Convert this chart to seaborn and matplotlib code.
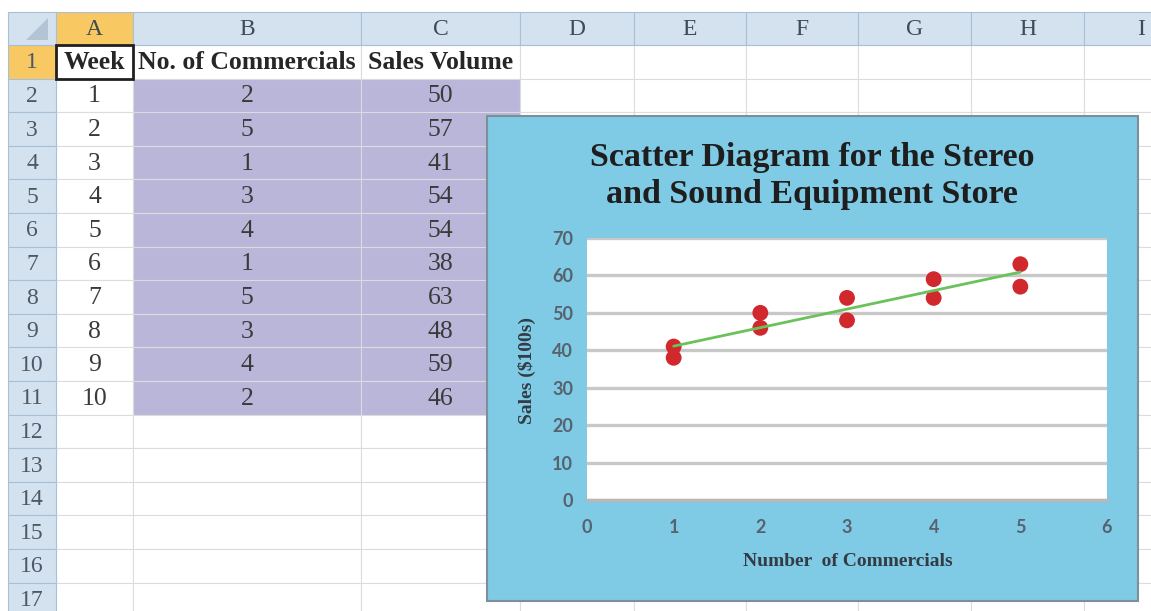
import matplotlib
matplotlib.use("Agg")
import matplotlib.pyplot as plt
from matplotlib.patches import Rectangle, Polygon
import seaborn as sns
import pandas as pd

# data
weeks = [1, 2, 3, 4, 5, 6, 7, 8, 9, 10]
commercials = [2, 5, 1, 3, 4, 1, 5, 3, 4, 2]
sales = [50, 57, 41, 54, 54, 38, 63, 48, 59, 46]
headers = ["Week", "No. of Commercials", "Sales Volume"]
col_letters = ["A", "B", "C", "D", "E", "F", "G", "H", "I"]
n_rows = 17
title = "Scatter Diagram for the Stereo\nand Sound Equipment Store"
x_title = "Number  of Commercials"
y_title = "Sales ($100s)"
x_ticks = [0, 1, 2, 3, 4, 5, 6]
y_ticks = [0, 10, 20, 30, 40, 50, 60, 70]

W, H = 1151, 611
SERIF = ["Liberation Serif", "DejaVu Serif"]
SANS = ["Lato", "DejaVu Sans"]

sns.set_style("white")
plt.rcParams["font.family"] = SERIF

fig = plt.figure(figsize=(W / 100, H / 100), dpi=100)

# ---- spreadsheet background in pixel coords
bg = fig.add_axes([0, 0, 1, 1])
bg.set_xlim(0, W)
bg.set_ylim(H, 0)
bg.axis("off")

col_edges = [8, 56, 133, 361, 520, 634, 746, 858, 971, 1084, 1198]
hdr_top, hdr_bot, row_h = 12, 45, 33.6
row_edges = [hdr_bot + i * row_h for i in range(n_rows + 1)]

hdr_blue = "#D4E2F0"
sel_orange = "#F8C962"
purple = "#B9B6DA"
grid_c = "#DCDCDC"
hdr_line = "#A9BFD6"

# cells grid
for r in range(n_rows):
    y0, y1 = row_edges[r], row_edges[r + 1]
    for c in range(1, len(col_edges) - 1):
        x0, x1 = col_edges[c], col_edges[c + 1]
        fc = "white"
        if 1 <= r <= len(weeks) and c in (2, 3):
            fc = purple
        bg.add_patch(Rectangle((x0, y0), x1 - x0, y1 - y0, facecolor=fc,
                               edgecolor=grid_c, lw=0.8))
    # row header
    fc = sel_orange if r == 0 else hdr_blue
    bg.add_patch(Rectangle((col_edges[0], y0), col_edges[1] - col_edges[0],
                           y1 - y0, facecolor=fc, edgecolor=hdr_line, lw=0.8))
    bg.text((col_edges[0] + col_edges[1]) / 2, (y0 + y1) / 2 + 1, str(r + 1),
            ha="center", va="center", fontsize=17, color="#4B5868")

# column header row
bg.add_patch(Rectangle((col_edges[0], hdr_top), col_edges[1] - col_edges[0],
                       hdr_bot - hdr_top, facecolor=hdr_blue,
                       edgecolor=hdr_line, lw=0.8))
bg.add_patch(Polygon([(48, 18), (48, 40), (26, 40)], closed=True,
                     facecolor="#B4C4D4", edgecolor="none"))
for i, letter in enumerate(col_letters):
    x0, x1 = col_edges[i + 1], col_edges[i + 2]
    fc = sel_orange if i == 0 else hdr_blue
    bg.add_patch(Rectangle((x0, hdr_top), x1 - x0, hdr_bot - hdr_top,
                           facecolor=fc, edgecolor=hdr_line, lw=0.8))
    bg.text((x0 + x1) / 2, (hdr_top + hdr_bot) / 2 + 1, letter, ha="center",
            va="center", fontsize=17, color="#3F4A56")

# table text
for c, h in enumerate(headers):
    x0, x1 = col_edges[c + 1], col_edges[c + 2]
    bg.text((x0 + x1) / 2, (row_edges[0] + row_edges[1]) / 2 + 1, h,
            ha="center", va="center", fontsize=18.5, fontweight="bold",
            color="#262626")
for i, vals in enumerate(zip(weeks, commercials, sales)):
    y0, y1 = row_edges[i + 1], row_edges[i + 2]
    for c, v in enumerate(vals):
        x0, x1 = col_edges[c + 1], col_edges[c + 2]
        bg.text((x0 + x1) / 2, (y0 + y1) / 2 + 1, str(v), ha="center",
                va="center", fontsize=18.5, color="#3A3A3A")

# selected cell A1
bg.add_patch(Rectangle((col_edges[1], row_edges[0]), col_edges[2] - col_edges[1],
                       row_h, facecolor="none", edgecolor="#202020", lw=2))

# chart box
chart_bg = "#7FCAE5"
bg.add_patch(Rectangle((487, 116), 651, 485, facecolor=chart_bg,
                       edgecolor="#7E8E9A", lw=1.5))

# ---- chart
px0, px1, py0, py1 = 587, 1107, 238, 500
ax = fig.add_axes([px0 / W, (H - py1) / H, (px1 - px0) / W, (py1 - py0) / H])
ax.set_facecolor("white")

df = pd.DataFrame({"Commercials": commercials, "Sales": sales})
sns.scatterplot(data=df, x="Commercials", y="Sales", ax=ax, color="#D0282C",
                s=130, edgecolor="none", zorder=3)
sns.regplot(data=df, x="Commercials", y="Sales", ax=ax, scatter=False,
            ci=None, color="#6AC25A", line_kws={"lw": 2, "zorder": 4})

ax.set_xlim(0, 6)
ax.set_ylim(0, 70)
ax.set_xticks(x_ticks)
ax.set_yticks(y_ticks)
ax.grid(axis="y", color="#C8C8C8", lw=2.4)
ax.grid(axis="x", visible=False)
for s in ["top", "right", "left"]:
    ax.spines[s].set_visible(False)
ax.spines["bottom"].set_color("#B8B8B8")
ax.spines["bottom"].set_linewidth(2.4)
ax.tick_params(axis="both", length=0, labelsize=13, labelcolor="#56636D")
ax.tick_params(axis="y", pad=10)
ax.tick_params(axis="x", pad=14)
for lab in ax.get_xticklabels() + ax.get_yticklabels():
    lab.set_family(SANS)
    lab.set_fontweight("bold")

ax.set_xlabel(x_title, fontsize=14, fontweight="bold", color="#333B44")
ax.set_ylabel(y_title, fontsize=14, fontweight="bold", color="#333B44")
ax.xaxis.set_label_coords(((848 - px0) / (px1 - px0)), (py1 - 562) / (py1 - py0))
ax.xaxis.label.set_va("center")
ax.yaxis.set_label_coords((527 - px0) / (px1 - px0), (py1 - 370) / (py1 - py0))
ax.yaxis.label.set_va("center")

fig.text(812 / W, 1 - 176 / H, title, ha="center", va="center", fontsize=24.5,
         fontweight="bold", color="#1E1E1E", linespacing=1.22)

fig.savefig("out.png", dpi=100)
